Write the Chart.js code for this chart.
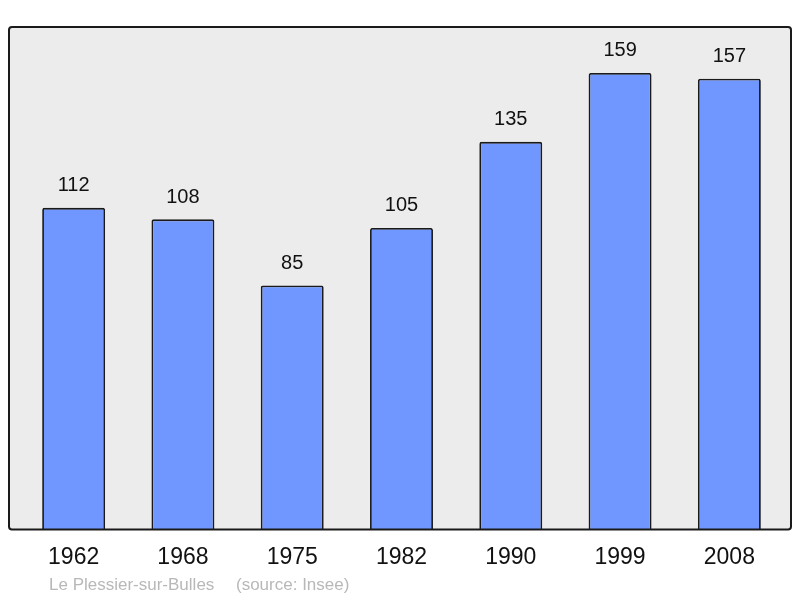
<!DOCTYPE html>
<html>
<head>
<meta charset="utf-8">
<script src="https://cdn.jsdelivr.net/npm/chart.js@4"></script>
<style>
  html, body { margin: 0; padding: 0; background: #fff; }
  #wrap { width: 800px; height: 598px; }
</style>
</head>
<body>
<div id="wrap"><canvas id="popChart" width="800" height="598"></canvas></div>
<script>
// Population data
const years = ["1962", "1968", "1975", "1982", "1990", "1999", "2008"];
const population = [112, 108, 85, 105, 135, 159, 157];
const yMax = 175;

const commune = "Le Plessier-sur-Bulles";
const source = "(source: Insee)";

// grey box behind the bars, a bit wider than the category area
const frameBox = {
  id: "frameBox",
  beforeDraw(chart) {
    const { ctx, chartArea: a } = chart;
    const x0 = a.left - 10, x1 = a.right + 7;
    ctx.save();
    ctx.fillStyle = "#ececec";
    ctx.beginPath();
    ctx.roundRect(x0, a.top, x1 - x0, a.bottom - a.top, 3);
    ctx.fill();
    ctx.restore();
  },
  afterDatasetsDraw(chart) {
    const { ctx, chartArea: a } = chart;
    const x0 = a.left - 10, x1 = a.right + 7;
    ctx.save();
    ctx.strokeStyle = "#1a1a1a";
    ctx.lineWidth = 2;
    ctx.beginPath();
    ctx.roundRect(x0, a.top, x1 - x0, a.bottom - a.top, 3);
    ctx.stroke();

    // values above bars
    ctx.fillStyle = "#111";
    ctx.font = "20px 'Liberation Sans', Arial, sans-serif";
    ctx.textAlign = "center";
    ctx.textBaseline = "middle";
    chart.getDatasetMeta(0).data.forEach((bar, i) => {
      ctx.fillText(population[i], bar.x, bar.y - 22);
    });

    // footer
    ctx.fillStyle = "#b8b8b8";
    ctx.font = "17px 'Liberation Sans', Arial, sans-serif";
    ctx.textAlign = "left";
    ctx.fillText(commune, 49, 585);
    ctx.fillText(source, 236, 585);
    ctx.restore();
  }
};

new Chart(document.getElementById("popChart"), {
  type: "bar",
  data: {
    labels: years,
    datasets: [{
      data: population,
      backgroundColor: "#7096ff",
      borderColor: "#1a1a1a",
      borderWidth: 1.8,
      borderRadius: 2,
      borderSkipped: "bottom",
      categoryPercentage: 1,
      barPercentage: 0.576
    }]
  },
  options: {
    responsive: false,
    animation: false,
    layout: { padding: { left: 19, right: 16, top: 27, bottom: 13 } },
    plugins: {
      legend: { display: false },
      tooltip: { enabled: false }
    },
    scales: {
      x: {
        grid: { display: false, drawTicks: false },
        border: { display: false },
        ticks: {
          color: "#111",
          padding: 14,
          font: { family: "'Liberation Sans', Arial, sans-serif", size: 23 }
        }
      },
      y: {
        display: false,
        min: 0,
        max: yMax
      }
    }
  },
  plugins: [frameBox]
});
</script>
</body>
</html>
